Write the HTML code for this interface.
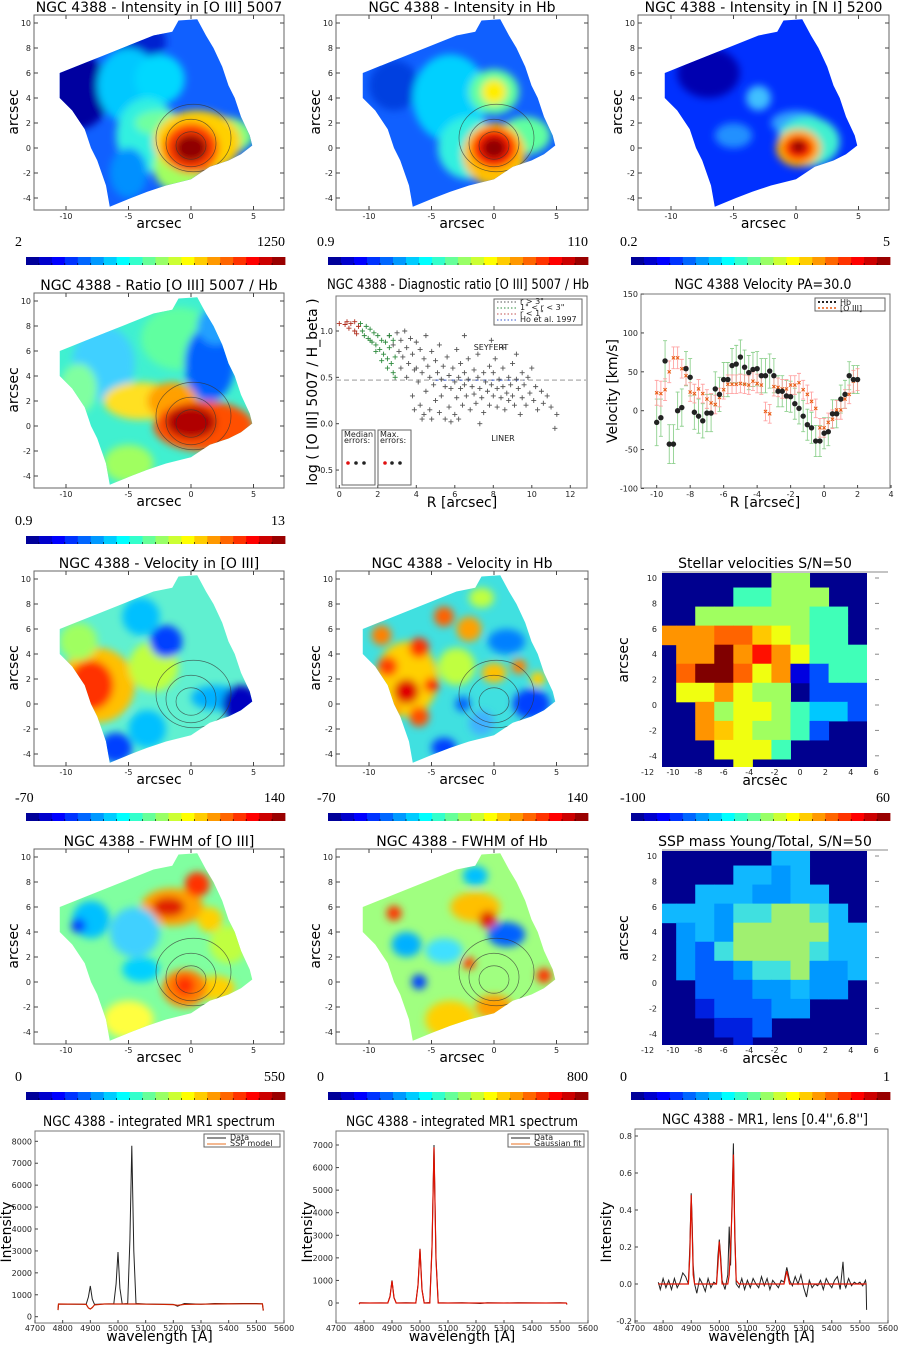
<!DOCTYPE html>
<html><head><meta charset="utf-8">
<style>
html,body{margin:0;padding:0;background:#fff;}
svg{display:block;font-family:"DejaVu Sans","Liberation Sans",sans-serif;}
.t{font-size:14px;fill:#000;}
.tk{font-size:8px;fill:#222;}
.cb{font-family:"Liberation Serif",serif;font-size:14px;fill:#000;}
</style></head>
<body>
<svg id="fig" width="900" height="1345" viewBox="0 0 900 1345" xmlns="http://www.w3.org/2000/svg">
<defs>
<filter id="blur" x="-20%" y="-20%" width="140%" height="140%"><feGaussianBlur stdDeviation="4"/></filter>
<clipPath id="stelclip1"><rect x="662" y="573" width="205" height="194"/></clipPath>
<clipPath id="stelclip2"><rect x="662" y="851" width="205" height="194"/></clipPath>
</defs>
</svg>
<script>
// ---------------- DATA ----------------
const velR = [-10,-9.75,-9.5,-9.25,-9,-8.75,-8.5,-8.25,-8,-7.75,-7.5,-7.25,-7,-6.75,-6.5,-6.25,-6,-5.75,-5.5,-5.25,-5,-4.75,-4.5,-4.25,-4,-3.75,-3.5,-3.25,-3,-2.75,-2.5,-2.25,-2,-1.75,-1.5,-1.25,-1,-0.75,-0.5,-0.25,0,0.25,0.5,0.75,1,1.25,1.5,1.75,2];
const velHb = [-15,-9,64,-43,-43,0,4,54,43,-2,-7,-13,-3,-3,28,21,40,40,58,60,69,56,49,53,54,45,45,51,45,25,25,19,18,9,3,-7,-18,-22,-39,-39,-29,-27,-4,-4,15,21,45,40,40];
const velHbErr = [30,24,26,25,25,24,24,22,24,22,22,22,24,24,22,22,22,22,22,24,22,22,22,22,22,22,22,22,22,20,20,20,20,20,20,20,20,20,20,20,20,18,18,18,18,18,18,18,18];
const velO3 = [23,22,27,50,68,68,54,45,24,22,28,22,15,10,8,17,27,34,34,34,35,34,33,38,35,33,-1,-4,31,30,28,28,33,33,36,27,21,12,3,-22,-22,-15,-11,1,1,15,21,38,40];
const velO3Err = [16,16,14,14,14,14,12,12,12,12,12,12,12,12,12,12,12,12,12,12,12,12,12,12,12,12,12,12,12,12,12,12,12,12,12,12,12,12,12,12,12,12,12,12,12,12,12,14,14];
const velTicksY = [-100,-50,0,50,100,150];
const velTicksX = [-10,-8,-6,-4,-2,0,2,4];
const farR = [2.6,2.8,3.0,3.1,3.2,3.3,3.4,3.5,3.6,3.7,3.8,3.9,4.0,4.0,4.1,4.2,4.2,4.3,4.4,4.4,4.5,4.5,4.6,4.7,4.7,4.8,4.8,4.9,5.0,5.0,5.1,5.2,5.2,5.3,5.3,5.4,5.5,5.5,5.6,5.7,5.7,5.8,5.9,6.0,6.0,6.1,6.1,6.2,6.3,6.3,6.4,6.5,6.5,6.6,6.7,6.7,6.8,6.9,7.0,7.0,7.1,7.2,7.2,7.3,7.4,7.5,7.5,7.6,7.7,7.8,7.8,7.9,8.0,8.0,8.1,8.2,8.2,8.3,8.4,8.5,8.5,8.6,8.7,8.8,8.8,8.9,9.0,9.0,9.1,9.2,9.3,9.4,9.5,9.5,9.6,9.7,9.8,9.9,10.0,10.1,10.2,10.3,10.5,10.6,10.8,11.0,11.2,11.3,3.2,3.5,3.8,3.9,4.3,5.8,6.2,7.3,8.5,9.2,6.5,7.9];
const farV = [0.95,0.85,0.98,0.78,0.9,0.72,1.0,0.82,0.65,0.92,0.75,0.58,0.88,0.6,0.45,0.8,0.2,0.55,0.7,0.1,0.95,0.35,0.62,0.5,0.15,0.78,0.05,0.42,0.68,0.25,0.55,0.85,0.12,0.48,0.3,0.62,0.4,0.05,0.72,0.52,0.18,0.38,0.6,0.45,0.1,0.8,0.28,0.5,0.38,0.65,0.2,0.55,0.42,0.3,0.7,0.48,0.15,0.4,0.58,0.32,0.22,0.5,0.75,0.38,0.28,0.55,0.12,0.45,0.35,0.62,0.2,0.42,0.3,0.55,0.7,0.38,0.18,0.48,0.28,0.6,0.4,0.15,0.33,0.5,0.25,0.42,0.65,0.3,0.2,0.48,0.38,0.1,0.55,0.28,0.42,0.2,0.5,0.33,0.6,0.25,0.4,0.15,0.35,0.22,0.3,0.18,-0.05,0.1,0.6,0.5,0.3,0.15,0.05,0.02,0.05,0.0,0.82,0.75,0.95,0.9];
const midR = [1.1,1.2,1.3,1.4,1.5,1.6,1.7,1.8,1.9,2.0,2.1,2.2,2.3,2.4,2.5,2.6,2.7,2.8,2.9,2.8,2.9,2.5,2.2,1.9,1.6,2.6];
const midV = [1.08,1.0,0.95,1.05,0.92,1.02,0.88,0.98,0.85,0.95,0.8,0.9,0.75,0.88,0.7,0.82,0.65,0.9,0.72,0.55,0.5,0.6,0.68,0.78,0.9,0.95];
const nearR = [0.0,0.3,0.4,0.5,0.6,0.8,0.8,0.9,1.0];
const nearV = [1.08,1.07,1.1,1.03,1.08,1.1,1.0,0.97,1.05];
const hoLevel = 0.47;
const diagTicksY = [-0.5,0.0,0.5,1.0];
const diagTicksX = [0,2,4,6,8,10,12];
const wl1 = [4783,4785,4820,4860,4885,4893,4900,4907,4915,4950,4985,4993,5000,5007,5015,5035,5043,5050,5057,5065,5100,5150,5200,5215,5240,5300,5350,5400,5450,5500,5522,5525];
const flux1 = [300,580,575,570,575,900,1400,800,560,580,590,1500,2950,1300,580,600,3500,7800,3000,600,580,570,560,480,600,570,600,590,600,600,590,280];
const model1 = [300,580,575,570,560,400,350,420,540,580,580,580,580,580,580,580,580,580,580,580,570,565,550,520,560,570,580,585,590,590,585,280];
const flux2 = [-50,10,0,5,0,300,1000,250,0,10,0,800,2400,600,0,20,2500,7000,2000,10,0,10,-10,-20,15,0,10,5,0,10,0,-60];
const fit2 = [-50,0,0,0,0,280,980,230,0,0,0,780,2380,580,0,0,2450,6900,1900,0,0,0,0,0,0,0,0,0,0,0,0,-60];
const wl3 = [4783,4790,4800,4810,4820,4830,4840,4850,4860,4870,4880,4890,4895,4900,4903,4907,4912,4920,4930,4940,4950,4960,4970,4980,4990,4995,5000,5005,5010,5020,5030,5035,5040,5045,5050,5055,5060,5070,5080,5090,5100,5110,5120,5130,5140,5150,5160,5170,5180,5190,5200,5210,5220,5230,5240,5250,5260,5270,5280,5290,5300,5310,5320,5330,5340,5350,5360,5370,5380,5390,5400,5410,5420,5430,5440,5445,5450,5460,5470,5480,5490,5500,5510,5520,5522,5524];
const flux3 = [0.01,-0.03,0.03,-0.02,0.02,-0.03,0.03,-0.02,0.01,0.06,0.04,0.0,0.2,0.49,0.35,0.1,0.0,-0.05,0.03,0.0,-0.04,0.03,-0.02,0.01,0.0,0.15,0.24,0.15,0.02,-0.03,0.05,0.31,0.1,0.45,0.76,0.3,0.0,-0.02,0.03,-0.03,0.02,-0.02,0.03,0.0,-0.02,0.04,-0.01,0.03,-0.03,0.02,0.0,-0.02,0.02,0.01,0.09,0.02,-0.01,0.04,0.0,0.05,-0.02,-0.07,0.02,-0.02,0.0,-0.01,0.02,-0.03,0.03,0.0,-0.02,0.02,0.04,-0.03,0.12,0.0,-0.02,0.03,-0.01,0.01,0.0,0.01,-0.01,0.02,0.0,-0.14];
const fit3 = [0,0,0,0,0,0,0,0,0,0,0,0,0.15,0.48,0.3,0.05,0,0,0,0,0,0,0,0,0,0.1,0.23,0.12,0,0,0,0.05,0.2,0.4,0.7,0.25,0.02,0,0,0,0,0,0,0,0,0,0,0,0,0,0,0,0,0,0.07,0,0,0,0,0,0,0,0,0,0,0,0,0,0,0,0,0,0,0,0,0,0,0,0,0,0,0,0,0,0,0];
const spec1TicksY = [0,1000,2000,3000,4000,5000,6000,7000,8000];
const spec2TicksY = [0,1000,2000,3000,4000,5000,6000,7000];
const spec3TicksY = [-0.2,0.0,0.2,0.4,0.6,0.8];
const wlTicks = [4700,4800,4900,5000,5100,5200,5300,5400,5500,5600];

// ---------------- HELPERS ----------------
const NS = 'http://www.w3.org/2000/svg';
const svg = document.getElementById('fig');
function mk(tag, attrs, parent){ const e=document.createElementNS(NS,tag); for(const k in attrs) e.setAttribute(k,attrs[k]); (parent||svg).appendChild(e); return e; }
function txt(s,x,y,cls,anchor,parent){ const e=mk('text',{x:x,y:y,class:cls,'text-anchor':anchor||'middle'},parent); e.textContent=s; return e; }
function fit(e,len){ e.setAttribute('textLength',len); e.setAttribute('lengthAdjust','spacingAndGlyphs'); }
function jet(t){ const c=v=>Math.round(255*Math.max(0,Math.min(1,v))); return 'rgb('+c(1.5-Math.abs(4*t-3))+','+c(1.5-Math.abs(4*t-2))+','+c(1.5-Math.abs(4*t-1))+')'; }

const footprint = [[-10.5,6],[-8,7],[-5,8.2],[-3,9],[-1.5,9.3],[-1,10.2],[0.5,10.3],[1.2,9],[1.8,8],[2.5,6.5],[3,5],[3.5,4],[4,2.5],[4.7,1],[4.9,0.2],[4,-0.5],[3,-1],[1.5,-1.5],[0,-2.5],[-2,-3],[-3.5,-3.5],[-4.8,-4],[-6.5,-4.7],[-6.8,-3],[-7.5,-1],[-8,0],[-8.5,1.5],[-9.5,3],[-10.5,4]];
const contourSet = [[0,0.2,1.2,1.1],[0,0.4,2,1.9],[0.2,0.8,3,2.7]];
let clipId = 0;
function mapPanel(o){
  const g = mk('g',{});
  
  
  const X = a => o.zx + a*12.5, Y = a => o.zy - a*12.5;
  mk('rect',{x:o.L,y:o.T,width:o.R-o.L,height:195,fill:'#fff',stroke:'#666','stroke-width':1},g);
  const cid='clip'+(clipId++);
  const cp = mk('clipPath',{id:cid},g);
  mk('polygon',{points:footprint.map(p=>X(p[0])+','+Y(p[1])).join(' ')},cp);
  const inner = mk('g',{'clip-path':'url(#'+cid+')'},g);
  mk('rect',{x:o.L,y:o.T,width:o.R-o.L,height:195,fill:o.base},inner);
  const bl = mk('g',{filter:'url(#blur)'},inner);
  o.blobs.forEach(b=>{ mk('ellipse',{cx:X(b[0]),cy:Y(b[1]),rx:b[2]*12.5,ry:b[3]*12.5,fill:b[4]},bl); });
  if(o.contours){ contourSet.forEach(c=>{ mk('ellipse',{cx:X(c[0]),cy:Y(c[1]),rx:c[2]*12.5,ry:c[3]*12.5,fill:'none',stroke:'#333','stroke-width':0.7,opacity:0.7},inner); }); }
  [-10,-5,0,5].forEach(v=>{ mk('line',{x1:X(v),x2:X(v),y1:o.T+195,y2:o.T+191,stroke:'#444'},g); mk('line',{x1:X(v),x2:X(v),y1:o.T,y2:o.T+4,stroke:'#444'},g); txt(String(v),X(v),o.T+204,'tk','middle',g); });
  [-4,-2,0,2,4,6,8,10].forEach(v=>{ mk('line',{x1:o.L,x2:o.L+4,y1:Y(v),y2:Y(v),stroke:'#444'},g); mk('line',{x1:o.R,x2:o.R-4,y1:Y(v),y2:Y(v),stroke:'#444'},g); txt(String(v),o.L-3,Y(v)+3,'tk','end',g); });
  const t = txt(o.title,(o.L+o.R)/2,o.T-3,'t','middle',g);
  
  
  const xl = txt('arcsec',(o.L+o.R)/2,o.T+213,'t','middle',g);
  
  
  const yl = txt('arcsec',0,0,'t','middle',g);
  yl.setAttribute('transform','translate('+(o.L-16)+','+(o.T+97)+') rotate(-90)');
  
  
}
function colorbar(x0,x1,y,lo,hi,name){
  const g = mk('g',{});
  
  
  const w=(x1-x0)/20;
  for(let i=0;i<20;i++){ mk('rect',{x:x0+i*w,y:y,width:w+0.4,height:8,fill:jet((i+0.5)/20)},g); if(i>0) mk('line',{x1:x0+i*w,x2:x0+i*w,y1:y+8,y2:y+6,stroke:'#000','stroke-width':0.6},g); }
  txt(lo,x0-11,y-11,'cb','start',g);
  txt(hi,x1,y-11,'cb','end',g);
}
function gridPanel(o){
  const g = mk('g',{});
  
  
  const X=a=>800+a*12.7, Y=a=>o.zy-a*12.7;
  mk('rect',{x:662,y:o.zy-132,width:205,height:194,fill:'#00008f'},g);
  mk('line',{x1:662,x2:888,y1:o.zy-133,y2:o.zy-133,stroke:'#888'},g);
  const cells = mk('g',{'clip-path':'url(#'+o.clip+')'},g);
  const cols=[-10.5,-9,-7.5,-6,-4.5,-3,-1.5,0,1.5,3,4.5], rows=[10,8.5,7,5.5,4,2.5,1,-0.5,-2,-3.5,-5];
  o.grid.forEach((row,ri)=>{ for(let ci=0;ci<row.length;ci++){ const ch=row[ci]; if(ch==='.') continue; mk('rect',{x:X(cols[ci]-0.75),y:Y(rows[ri]+0.75),width:1.5*12.7+0.5,height:1.5*12.7+0.5,fill:o.pal[ch]},cells); } });
  [-12,-10,-8,-6,-4,-2,0,2,4,6].forEach(v=>{ txt(String(v),X(v),o.zy+70,'tk','middle',g); });
  [-4,-2,0,2,4,6,8,10].forEach(v=>{ txt(String(v),657,Y(v)+3,'tk','end',g); mk('line',{x1:875,x2:879,y1:Y(v),y2:Y(v),stroke:'#888'},g); });
  const t=txt(o.title,765,o.zy-137,'t','middle',g);
  
  
  const xl=txt('arcsec',765,o.zy+80,'t','middle',g);
  
  
  const yl=txt('arcsec',0,0,'t','middle',g);
  yl.setAttribute('transform','translate(628,'+(o.zy-45)+') rotate(-90)');
  
  
}

mapPanel({name:'map-o3-intensity',title:'NGC 4388 - Intensity in [O III] 5007',L:34,R:284,T:15,zx:191,zy:148,base:'#1060ff',contours:true,blobs:[[-9,4.5,2.5,3,'#0000a0'],[-4,8.5,2,1.5,'#0020d0'],[-5,5,2.5,3,'#00c8ff'],[-2.5,5.5,2,2,'#00d8ff'],[-3.5,1,2.5,3,'#30f0e0'],[-5,-2,1.5,2,'#0090ff'],[-2.5,2,2,1,'#70ffa0'],[-1,-1.5,2,2,'#a0ff60'],[2.5,1,2.5,1.5,'#80ff80'],[0.5,0.5,3.5,2.5,'#ffd000'],[0,0,2.2,2,'#ff4000'],[0,0,1.3,1.1,'#900000']]});
mapPanel({name:'map-hb-intensity',title:'NGC 4388 - Intensity in Hb',L:336,R:588,T:15,zx:494,zy:148,base:'#1060ff',contours:true,blobs:[[-8,5,2,2,'#0040e0'],[-3.5,4,3,3.5,'#00d0ff'],[0,4.5,2,1.8,'#60ffa0'],[0,4.5,1,1,'#ffee00'],[-2,0,2.5,2.5,'#30f0e0'],[2.5,1,2,1.5,'#60ffa0'],[0,-0.5,2.5,2.5,'#ffc000'],[0,0,1.8,1.6,'#ff2000'],[0,0,1,0.9,'#900000']]});
mapPanel({name:'map-n1-intensity',title:'NGC 4388 - Intensity in [N I] 5200',L:638,R:889,T:15,zx:796,zy:148,base:'#0030ff',contours:false,blobs:[[-7,6,2.5,2,'#0000b0'],[-3,4,1,1,'#40c0ff'],[-5,1,1.5,1,'#2090ff'],[0,2,2,1,'#30a0ff'],[1,0.5,2.5,2,'#40f0d0'],[0.2,0,1.8,1.5,'#ffb000'],[0.2,0,1.2,1,'#ff2000'],[0.2,0.1,0.6,0.5,'#800000']]});
colorbar(26,285,257,'2','1250','colorbar-o3-intensity');
colorbar(328,588,257,'0.9','110','colorbar-hb-intensity');
colorbar(631,890,257,'0.2','5','colorbar-n1-intensity');

mapPanel({name:'map-ratio',title:'NGC 4388 - Ratio [O III] 5007 / Hb',L:34,R:284,T:293,zx:191,zy:426,base:'#40f0d0',contours:true,blobs:[[-7,5,2.5,3,'#40d0ff'],[-9,3,1.5,2,'#80ffa0'],[-1,7,3,2.5,'#60ffa0'],[1.5,5,2,3,'#0060ff'],[2,8,1.5,1.5,'#20a0ff'],[-5,-3,2,1.5,'#a0ff60'],[-4,2,3,1.5,'#ffe020'],[-1.5,2,2,1.5,'#ffa000'],[1,0,4,2,'#ff5000'],[0,0.3,2,1.3,'#b00000']]});
colorbar(26,285,536,'0.9','13','colorbar-ratio');

mapPanel({name:'map-o3-velocity',title:'NGC 4388 - Velocity in [O III]',L:34,R:284,T:571,zx:191,zy:704,base:'#60f0d0',contours:true,blobs:[[-7.5,1.5,3,3,'#ffc000'],[-8,1.5,1.8,2,'#ff3000'],[-3,3,2,2,'#c0ff40'],[-9,5,1.5,1.5,'#a0ff60'],[-2,5,1.3,1.3,'#0040ff'],[-4,7,1.5,1.5,'#00c0ff'],[2,0.5,2,1,'#00b0ff'],[4,0,1.5,1.5,'#0000c0'],[-6,-3.5,1.3,1.2,'#0040ff'],[-3.5,-2,1.5,1.5,'#00c0ff']]});
mapPanel({name:'map-hb-velocity',title:'NGC 4388 - Velocity in Hb',L:336,R:588,T:571,zx:494,zy:704,base:'#40e0e0',contours:true,blobs:[[-7,2,2.5,3,'#ffd000'],[-7,1,1,1,'#e00000'],[-8.5,3,0.8,0.8,'#ff4000'],[-6,4.5,0.8,0.8,'#ff3000'],[-4,7,0.8,0.8,'#ff6000'],[-6,-1,0.8,0.8,'#ff5000'],[-2,6,1,1,'#ffa000'],[-3,3,1.5,1.5,'#c0ff40'],[1,5,1.5,1,'#0080ff'],[0,2.5,1,0.8,'#ffc000'],[3,0,1.5,1.2,'#0040ff'],[-4,-3.5,1,0.8,'#0040ff'],[-1,-1.5,1,1,'#40b0ff'],[-9,5.5,0.8,0.8,'#ff8000'],[-1,8.5,1,0.8,'#c0ff40'],[-5,1.5,0.6,0.6,'#ff2000'],[-8,-0.5,0.6,0.6,'#ffa000'],[2,3,0.6,0.6,'#ff8000'],[-2.5,0,0.6,0.6,'#0060ff'],[3.5,2,0.6,0.6,'#ffd000']]});
gridPanel({name:'map-stellar-velocity',title:'Stellar velocities S/N=50',zy:705,clip:'stelclip1',
  pal:{b:'#0050ff',B:'#0000e0',c:'#00c8ff',t:'#40ffb8',g:'#a0ff60',y:'#f0ff10',Y:'#ffc800',o:'#ff9400',r:'#ff6400',R:'#ff1000',D:'#800000',n:'#00008f'},
  grid:['......gg...','....ttggg..','..ggggggtt.','ooorrYygtt.','.ooDoRoyttt','.rDDryoBbtt','.yyoygg.bbb','..ogyygtccb','..oYyggtb..','...yyyt....','....y......']});
colorbar(26,285,813,'-70','140','colorbar-o3-velocity');
colorbar(328,588,813,'-70','140','colorbar-hb-velocity');
colorbar(631,890,813,'-100','60','colorbar-stellar-velocity');

mapPanel({name:'map-o3-fwhm',title:'NGC 4388 - FWHM of [O III]',L:34,R:284,T:849,zx:191,zy:982,base:'#80ffa0',contours:true,blobs:[[-1.5,6,2.5,1.5,'#ffa000'],[-1.8,6,1.3,0.8,'#e02000'],[0.5,7.8,1,1,'#ff3000'],[1.5,5,1,1,'#ffd000'],[-4.5,4,2,2,'#40d0ff'],[-8,5,1.5,1.5,'#00c0ff'],[-9,4.5,0.6,0.6,'#0040ff'],[-4,1,1.5,1,'#00d0ff'],[3,3,1.5,1.5,'#c0ff40'],[-5,-3,2,1.5,'#ffff40'],[2,-0.5,1.5,1,'#ffd000'],[-0.5,-0.5,1.8,1.5,'#ff8000'],[-0.5,-0.3,0.8,0.8,'#ff3000']]});
mapPanel({name:'map-hb-fwhm',title:'NGC 4388 - FWHM of Hb',L:336,R:588,T:849,zx:494,zy:982,base:'#a0ff80',contours:true,blobs:[[-1.5,6,2,1.2,'#ffc000'],[-0.5,5,0.7,0.7,'#e02000'],[1,3.8,1.5,1,'#0060ff'],[-7,3,1.2,1,'#00b0ff'],[-8,5.5,0.6,0.6,'#ff3000'],[-6,0,0.6,0.6,'#0040ff'],[-3.5,-3,2,1.5,'#ffd000'],[0,-2,1.5,1,'#ffa000'],[4,0.5,0.6,0.6,'#ff3000'],[-4,2.5,1.5,1,'#40e0ff'],[-2,1.5,0.5,0.5,'#ff4000'],[-1.5,8.5,1,0.8,'#00c0ff']]});
gridPanel({name:'map-ssp-mass',title:'SSP mass Young/Total, S/N=50',zy:983,clip:'stelclip2',
  pal:{k:'#0020e0',b:'#0060ff',c:'#0098ff',l:'#10b8ff',t:'#40e0e0',g:'#a0f070'},
  grid:['......ll...','....llcl...','..lllccll..','lllcttggtl.','.clcgggggll','.cbtggggtll','.cbbcttgccl','..bbbcclcc.','..kbbbcc...','...kkb.....','....k......']});
colorbar(26,285,1092,'0','550','colorbar-o3-fwhm');
colorbar(328,588,1092,'0','800','colorbar-hb-fwhm');
colorbar(631,890,1092,'0','1','colorbar-ssp-mass');

// ---------------- DIAGNOSTIC SCATTER ----------------
(function(){
  const g = mk('g',{});
  
  
  const L=336,R=587,T=296,B=488;
  const X=r=>339.3+r*19.25, Y=v=>423.7-v*92.7;
  mk('rect',{x:L,y:T,width:R-L,height:B-T,fill:'#fff',stroke:'#777'},g);
  mk('line',{x1:L,x2:R,y1:Y(hoLevel),y2:Y(hoLevel),stroke:'#bbb','stroke-width':1.5,'stroke-dasharray':'5,3'},g);
  mk('line',{x1:X(5),x2:X(9.6),y1:Y(hoLevel),y2:Y(hoLevel),stroke:'#3355cc','stroke-width':1,'stroke-dasharray':'3,5'},g);
  function cross(r,v,col){ const x=X(r),y=Y(v); return mk('path',{d:'M'+(x-2.5)+' '+y+'H'+(x+2.5)+'M'+x+' '+(y-2.5)+'V'+(y+2.5),stroke:col,'stroke-width':0.9},g); }
  for(let i=0;i<farR.length;i++){ const p=cross(farR[i],farV[i],'#555');
    
     }
  for(let i=0;i<midR.length;i++){ const p=cross(midR[i],midV[i],'#2e8b3e');
    
     }
  for(let i=0;i<nearR.length;i++){ const p=cross(nearR[i],nearV[i],'#b03020');
    
     }
  diagTicksX.forEach(v=>{ txt(String(v),X(v),B+9,'tk','middle',g); mk('line',{x1:X(v),x2:X(v),y1:B,y2:B-3,stroke:'#444'},g); });
  diagTicksY.forEach(v=>{ txt(v.toFixed(1),L-3,Y(v)+3,'tk','end',g); mk('line',{x1:L,x2:L+3,y1:Y(v),y2:Y(v),stroke:'#444'},g); });
  txt('SEYFERT',491,350,'tk','middle',g);
  txt('LINER',503,441,'tk','middle',g);
  mk('rect',{x:494,y:299,width:88,height:26,fill:'#fff',stroke:'#666'},g);
  [['r > 3"','#555'],['1" < r < 3"','#2e8b3e'],['r < 1"','#c05050'],['Ho et al. 1997','#3355cc']].forEach((e,i)=>{
    mk('line',{x1:497,x2:516,y1:302+i*6,y2:302+i*6,stroke:e[1],'stroke-dasharray':'1.5,2'},g);
    const t=txt(e[0],520,304+i*6,'tk','start',g); t.setAttribute('font-size','6'); });
  mk('rect',{x:342,y:430,width:33,height:55,fill:'#fff',stroke:'#666'},g);
  mk('rect',{x:378,y:430,width:33,height:55,fill:'#fff',stroke:'#666'},g);
  [['Median',344,437],['errors:',344,443],['Max.',380,437],['errors:',380,443]].forEach(a=>{ const t=txt(a[0],a[1],a[2],'tk','start',g); t.setAttribute('font-size','7'); });
  [[348,'#e01010'],[356,'#222'],[364,'#222'],[385,'#e01010'],[392,'#222'],[400,'#222']].forEach(a=>mk('circle',{cx:a[0],cy:463,r:1.8,fill:a[1]},g));
  const t=txt('NGC 4388 - Diagnostic ratio [O III] 5007 / Hb',458,289,'t','middle',g); t.setAttribute('font-size','11');
  fit(t,262);
  
  const xl=txt('R [arcsec]',462,507,'t','middle',g); xl.setAttribute('font-size','12');
  
  const yl=txt('log ( [O III] 5007 / H_beta )',0,0,'t','middle',g); yl.setAttribute('font-size','10');
  yl.setAttribute('transform','translate(317,392) rotate(-90)');
  
})();

// ---------------- VELOCITY CUT ----------------
(function(){
  const g = mk('g',{});
  
  
  const L=641,R=890,T=294,B=488;
  const X=r=>656.7+(r+10)*16.74, Y=v=>410.7-v*0.7776;
  mk('rect',{x:L,y:T,width:R-L,height:B-T,fill:'#fff',stroke:'#777'},g);
  velTicksX.forEach(v=>{ txt(String(v),X(v),B+9,'tk','middle',g); mk('line',{x1:X(v),x2:X(v),y1:B,y2:B-3,stroke:'#444'},g); });
  velTicksY.forEach(v=>{ txt(String(v),L-3,Y(v)+3,'tk','end',g); mk('line',{x1:L,x2:L+3,y1:Y(v),y2:Y(v),stroke:'#444'},g); });
  for(let i=0;i<velR.length;i++){
    const x=X(velR[i]);
    const e=mk('path',{d:'M'+x+' '+Y(velHb[i]-velHbErr[i])+'V'+Y(velHb[i]+velHbErr[i])+'M'+(x-2)+' '+Y(velHb[i]-velHbErr[i])+'h4M'+(x-2)+' '+Y(velHb[i]+velHbErr[i])+'h4',stroke:'#8fd18f','stroke-width':0.9},g);
    
    
    const e2=mk('path',{d:'M'+x+' '+Y(velO3[i]-velO3Err[i])+'V'+Y(velO3[i]+velO3Err[i])+'M'+(x-2)+' '+Y(velO3[i]-velO3Err[i])+'h4M'+(x-2)+' '+Y(velO3[i]+velO3Err[i])+'h4',stroke:'#ff9a9a','stroke-width':0.9,opacity:0.9},g);
    
    
  }
  for(let i=0;i<velR.length;i++){
    const x=X(velR[i]), y=Y(velO3[i]);
    const m=mk('path',{d:'M'+(x-1.6)+' '+(y-1.6)+'l3.2 3.2M'+(x-1.6)+' '+(y+1.6)+'l3.2 -3.2',stroke:'#e85a10','stroke-width':1},g);
    
    
    const c=mk('circle',{cx:x,cy:Y(velHb[i]),r:2.7,fill:'#222'},g);
    
    
  }
  mk('rect',{x:815,y:298,width:70,height:13,fill:'#fff',stroke:'#666'},g);
  mk('line',{x1:818,x2:837,y1:302,y2:302,stroke:'#222','stroke-dasharray':'2,2','stroke-width':2},g);
  mk('line',{x1:818,x2:837,y1:308,y2:308,stroke:'#e85a10','stroke-dasharray':'2,2','stroke-width':1.5},g);
  const a=txt('Hb',840,305,'tk','start',g); a.setAttribute('font-size','7');
  const b=txt('[O III]',840,311,'tk','start',g); b.setAttribute('font-size','7');
  const t=txt('NGC 4388  Velocity PA=30.0',763,289,'t','middle',g); t.setAttribute('font-size','12');
  fit(t,177);
  
  const xl=txt('R [arcsec]',765,507,'t','middle',g); xl.setAttribute('font-size','12');
  
  const yl=txt('Velocity [km/s]',0,0,'t','middle',g); yl.setAttribute('font-size','12');
  yl.setAttribute('transform','translate(617,391) rotate(-90)');
  
})();

// ---------------- SPECTRA ----------------
function spectrum(o){
  const g = mk('g',{});
  
  
  const X=w=>o.x0+(w-4700)*(o.x1-o.x0)/900, Y=v=>o.yz+(v-0)*(o.yt-o.yz)/o.tv;
  mk('rect',{x:o.x0,y:o.T,width:o.x1-o.x0,height:o.B-o.T,fill:'#fff',stroke:'#777'},g);
  wlTicks.forEach(v=>{ txt(String(v),X(v),o.B+8,'tk','middle',g).setAttribute('font-size','7'); mk('line',{x1:X(v),x2:X(v),y1:o.B,y2:o.B-3,stroke:'#444'},g); });
  o.ticks.forEach(v=>{ txt(o.fmt(v),o.x0-3,Y(v)+3,'tk','end',g).setAttribute('font-size','7'); mk('line',{x1:o.x0,x2:o.x0+3,y1:Y(v),y2:Y(v),stroke:'#444'},g); });
  const pts=(ws,vs)=>ws.map((w,i)=>X(w).toFixed(1)+','+Y(vs[i]).toFixed(1)).join(' ');
  const d=mk('polyline',{points:pts(o.wl,o.data),fill:'none',stroke:'#222','stroke-width':1},g);
  
  
  const m=mk('polyline',{points:pts(o.wl,o.model),fill:'none',stroke:o.mcol,'stroke-width':1.2},g);
  
  
  if(o.lx>0){
    mk('rect',{x:o.lx,y:o.T+3,width:76,height:13,fill:'#fff',stroke:'#666'},g);
    mk('line',{x1:o.lx+3,x2:o.lx+22,y1:o.T+7,y2:o.T+7,stroke:'#222'},g);
    mk('line',{x1:o.lx+3,x2:o.lx+22,y1:o.T+13,y2:o.T+13,stroke:'#e87020'},g);
    txt('Data',o.lx+26,o.T+9,'tk','start',g).setAttribute('font-size','6.5');
    txt(o.mlabel,o.lx+26,o.T+15,'tk','start',g).setAttribute('font-size','6.5');
  }
  const t=txt(o.title,o.tx,o.T-5,'t','middle',g); t.setAttribute('font-size','12');
  fit(t,o.tl);
  
  const xl=txt('wavelength [A]',(o.x0+o.x1)/2,1341,'t','middle',g); xl.setAttribute('font-size','12');
  
  const yl=txt('Intensity',0,0,'t','middle',g); yl.setAttribute('font-size','12');
  yl.setAttribute('transform','translate('+(o.x0-24)+',1232) rotate(-90)');
  
}
spectrum({name:'spectrum-integrated-ssp',title:'NGC 4388 - integrated MR1 spectrum',tx:159,tl:232,x0:35,x1:284,T:1131,B:1323,yz:1316.7,yt:1141.3,tv:8000,ticks:spec1TicksY,fmt:v=>String(v),wl:wl1,data:flux1,model:model1,mcol:'#cc2200',lx:204,mlabel:'SSP model'});
spectrum({name:'spectrum-integrated-gauss',title:'NGC 4388 - integrated MR1 spectrum',tx:462,tl:232,x0:336,x1:588,T:1131,B:1323,yz:1303,yt:1145,tv:7000,ticks:spec2TicksY,fmt:v=>String(v),wl:wl1,data:flux2,model:fit2,mcol:'#dd1100',lx:508,mlabel:'Gaussian fit'});
spectrum({name:'spectrum-lens',title:'NGC 4388  - MR1, lens [0.4\'\',6.8\'\']',tx:765,tl:206,x0:635,x1:888,T:1129,B:1323,yz:1284,yt:1136,tv:0.8,ticks:spec3TicksY,fmt:v=>v.toFixed(1),wl:wl3,data:flux3,model:fit3,mcol:'#dd1100',lx:-999,mlabel:''});
</script>
</body></html>
